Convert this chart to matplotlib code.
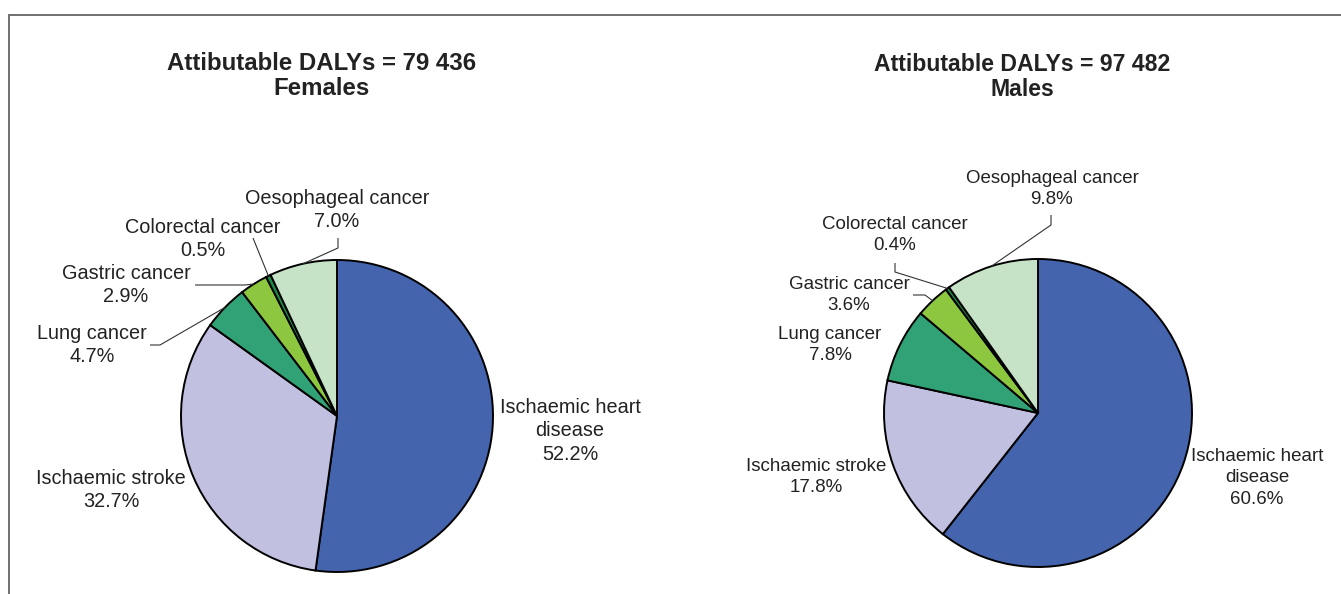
import matplotlib
matplotlib.use("Agg")
import matplotlib.pyplot as plt
import numpy as np

W, H = 1341, 594

categories = ["Ischaemic heart\ndisease", "Ischaemic stroke", "Lung cancer",
              "Gastric cancer", "Colorectal cancer", "Oesophageal cancer"]
female_values = [52.2, 32.7, 4.7, 2.9, 0.5, 7.0]
male_values = [60.6, 17.8, 7.8, 3.6, 0.4, 9.8]
female_total = "79 436"
male_total = "97 482"
colors = ["#4464AE", "#C1C0E0", "#31A275", "#8DC63F", "#1B8A45", "#C6E3C7"]

plt.rcParams['font.family'] = ['Liberation Sans', 'DejaVu Sans']
TXT = "#222222"

fig = plt.figure(figsize=(W / 100, H / 100), dpi=100)
ax = fig.add_axes([0, 0, 1, 1])


def Y(py):
    return H - py


def draw_panel(values, total, sex, center, radius, title_xy, label_pos, leaders, fs, tfs):
    wedges, _ = ax.pie(values, colors=colors, startangle=90, counterclock=False,
                       center=(center[0], Y(center[1])), radius=radius, frame=True,
                       wedgeprops=dict(edgecolor="black", linewidth=1.4))
    ax.text(title_xy[0], Y(title_xy[1]), f"Attibutable DALYs = {total}\n{sex}",
            ha="center", va="center", fontsize=tfs, fontweight="bold",
            color=TXT, linespacing=1.15)
    for i, (cat, v) in enumerate(zip(categories, values)):
        x, y = label_pos[i]
        ax.text(x, Y(y), f"{cat}\n{v:.1f}%", ha="center", va="center",
                fontsize=fs, color=TXT, linespacing=1.32)
    for i, pts in leaders.items():
        w = wedges[i]
        ang = np.deg2rad((w.theta1 + w.theta2) / 2)
        ex = w.center[0] + w.r * np.cos(ang)
        ey = w.center[1] + w.r * np.sin(ang)
        xs = [p[0] for p in pts] + [ex]
        ys = [Y(p[1]) for p in pts] + [ey]
        ax.plot(xs, ys, color="#333333", lw=0.8, solid_capstyle="butt")


# Females
draw_panel(female_values, female_total, "Females", (337, 416), 156, (322, 76),
           [(570, 431), (111, 490), (92, 345), (126, 285), (203, 239), (337, 210)],
           {2: [(150, 345), (160, 345)],
            3: [(195, 285), (245, 285)],
            4: [(253, 238)],
            5: [(338, 238), (338, 248)]},
           14.3, 17.3)

# Males
draw_panel(male_values, male_total, "Males", (1038, 413), 154, (1022, 77),
           [(1257, 478), (816, 477), (830, 345), (849, 295), (895, 235), (1052, 189)],
           {3: [(913, 295), (925, 295)],
            4: [(895, 263), (895, 272)],
            5: [(1051, 215), (1051, 225)]},
           13.5, 16.6)

# frame lines
ax.plot([9, W], [Y(15), Y(15)], color="#707070", lw=1.4)
ax.plot([9, 9], [Y(15), 0], color="#707070", lw=1.4)

ax.set_xlim(0, W)
ax.set_ylim(0, H)
ax.set_aspect("auto")
ax.axis("off")

fig.savefig("out.png", dpi=100)
